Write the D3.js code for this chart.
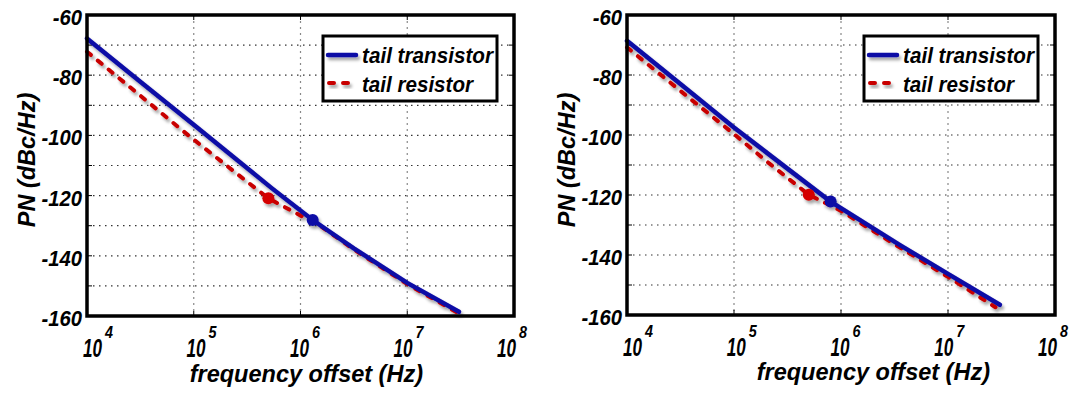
<html>
<head>
  <title> PN vs frequency offset </title>
  <style>
   body { margin: 0; background: #fff; }
   text { font-family: "Liberation Sans", Arial, sans-serif; font-weight: bold; font-style: italic; fill: #000; }
   .grid-h { stroke: #333; stroke-width: 1.2px; stroke-dasharray: 1.5,4.5; }
   .grid-v { stroke: #888; stroke-width: 1.2px; stroke-dasharray: 2,4; }
   .frame { fill: none; stroke: #000; stroke-width: 3.5px; }
  </style>
  <script src="https://cdn.jsdelivr.net/npm/d3@7"></script>
</head>
<body>
<svg id="chart" width="1077" height="399"></svg>
<script>
// x ticks (Hz) and y ticks (dBc/Hz)
var xTicks = [1e4, 1e5, 1e6, 1e7, 1e8];
var xTickExp = ["4", "5", "6", "7", "8"];
var yTicks = [-60, -80, -100, -120, -140, -160];
var yGrid = [-70, -80, -90, -100, -110, -120, -130, -140, -150];
var legendNames = ["tail transistor", "tail resistor"];

// left panel
var leftTransF  = [1e4, 3.16e4, 1e5, 5.41e5, 1.30e6, 3.16e6, 1e7, 3.05e7];
var leftTransPN = [-67.8, -82.2, -96.5, -117.6, -128.1, -137.5, -149.0, -158.6];
var leftResF    = [1e4, 3.16e4, 8.91e4, 2.51e5, 5.0e5, 1.58e6, 3.16e6, 1e7, 3.02e7];
var leftResPN   = [-72.2, -86.8, -100.0, -112.6, -120.9, -130.4, -137.9, -149.4, -159.1];
var leftMarkTrans = [1.30e6, -128.1];
var leftMarkRes   = [5.0e5, -120.9];

// right panel
var rightTransF  = [1e4, 3.16e4, 1e5, 3.16e5, 8.0e5, 3.56e6, 1e7, 3.05e7];
var rightTransPN = [-68.6, -83.0, -97.5, -111.2, -122.2, -136.7, -146.3, -156.6];
var rightResF    = [1e4, 3.16e4, 1e5, 2.09e5, 5.0e5, 1e6, 3.16e6, 1e7, 2.78e7];
var rightResPN   = [-70.8, -85.3, -99.7, -109.2, -119.9, -125.3, -136.4, -147.3, -157.4];
var rightMarkTrans = [8.0e5, -122.2];
var rightMarkRes   = [5.0e5, -119.9];

var blue = "#0a0aa6", red = "#c80000";

var svg = d3.select("#chart");
var defs = svg.append("defs");
var f = defs.append("filter").attr("id", "shadow")
  .attr("x", "-10%").attr("y", "-10%").attr("width", "130%").attr("height", "130%");
f.append("feDropShadow").attr("dx", 2).attr("dy", 3).attr("stdDeviation", 1.8)
  .attr("flood-color", "#000").attr("flood-opacity", 0.35);

var panels = [
  { x0: 87, x1: 514, y0: 15, y1: 316, ylab: 35, ylabY: 160, xlabEnd: 423, xlabY: 382,
    trans: [leftTransF, leftTransPN], res: [leftResF, leftResPN], mt: leftMarkTrans, mr: leftMarkRes },
  { x0: 627, x1: 1055, y0: 15, y1: 315, ylab: 575, ylabY: 160, xlabEnd: 990, xlabY: 380,
    trans: [rightTransF, rightTransPN], res: [rightResF, rightResPN], mt: rightMarkTrans, mr: rightMarkRes }
];

function zip(a, b) { return a.map(function(v, i) { return [v, b[i]]; }); }

panels.forEach(function(p) {
  var x = d3.scaleLog().domain([1e4, 1e8]).range([p.x0, p.x1]);
  var y = d3.scaleLinear().domain([-160, -60]).range([p.y1, p.y0]);
  // tick labels sit on a slightly tighter spacing than the grid
  var xl = d3.scaleLog().domain([1e4, 1e8]).range([p.x0 - 4, p.x1 - 17]);
  var g = svg.append("g");

  g.selectAll("line.gh").data(yGrid).enter().append("line")
    .attr("class", "grid-h")
    .attr("x1", p.x0).attr("x2", p.x1)
    .attr("y1", function(d) { return y(d); }).attr("y2", function(d) { return y(d); });
  g.selectAll("line.gv").data(xTicks.slice(1, 4)).enter().append("line")
    .attr("class", "grid-v")
    .attr("x1", function(d) { return x(d); }).attr("x2", function(d) { return x(d); })
    .attr("y1", p.y0).attr("y2", p.y1);

  // inward ticks on the frame
  g.selectAll("line.tl").data(yGrid).enter().append("line")
    .attr("stroke", "#000").attr("stroke-width", 1)
    .attr("x1", p.x0).attr("x2", p.x0 + 5)
    .attr("y1", function(d) { return y(d); }).attr("y2", function(d) { return y(d); });
  g.selectAll("line.tr").data(yGrid).enter().append("line")
    .attr("stroke", "#000").attr("stroke-width", 1)
    .attr("x1", p.x1 - 5).attr("x2", p.x1)
    .attr("y1", function(d) { return y(d); }).attr("y2", function(d) { return y(d); });
  g.selectAll("line.tb").data(xTicks.slice(1, 4)).enter().append("line")
    .attr("stroke", "#000").attr("stroke-width", 1)
    .attr("x1", function(d) { return x(d); }).attr("x2", function(d) { return x(d); })
    .attr("y1", p.y1 - 5).attr("y2", p.y1);
  g.selectAll("line.tt").data(xTicks.slice(1, 4)).enter().append("line")
    .attr("stroke", "#000").attr("stroke-width", 1)
    .attr("x1", function(d) { return x(d); }).attr("x2", function(d) { return x(d); })
    .attr("y1", p.y0).attr("y2", p.y0 + 5);

  var line = d3.line()
    .x(function(d) { return x(d[0]); })
    .y(function(d) { return y(d[1]); });

  var lg = g.append("g").attr("filter", "url(#shadow)");
  lg.append("path").datum(zip(p.res[0], p.res[1]))
    .attr("d", line).attr("fill", "none").attr("stroke", red)
    .attr("stroke-width", 4).attr("stroke-dasharray", "5,9").attr("stroke-linecap", "round");
  lg.append("path").datum(zip(p.trans[0], p.trans[1]))
    .attr("d", line).attr("fill", "none").attr("stroke", blue)
    .attr("stroke-width", 4.5).attr("stroke-linecap", "round");
  lg.append("circle").attr("cx", x(p.mr[0])).attr("cy", y(p.mr[1])).attr("r", 6).attr("fill", "#d40000");
  lg.append("circle").attr("cx", x(p.mt[0])).attr("cy", y(p.mt[1])).attr("r", 6).attr("fill", blue);

  g.append("rect").attr("class", "frame")
    .attr("x", p.x0).attr("y", p.y0).attr("width", p.x1 - p.x0).attr("height", p.y1 - p.y0);

  // y tick labels
  g.selectAll("text.yt").data(yTicks).enter().append("text")
    .attr("x", p.x0 - 5).attr("y", function(d) { return y(d) + 10; })
    .attr("text-anchor", "end").attr("font-size", "22px")
    .text(function(d) { return d; })
    .each(function() { d3.select(this).attr("textLength", this.getComputedTextLength() * 0.92).attr("lengthAdjust", "spacingAndGlyphs"); });

  // x tick labels: 10 with superscript exponent, one text each
  xTicks.forEach(function(t, i) {
    var tx = g.append("text").attr("x", xl(t)).attr("y", p.y1 + 41);
    tx.append("tspan").attr("font-size", "25px")
      .attr("textLength", 19).attr("lengthAdjust", "spacingAndGlyphs")
      .text("10");
    tx.append("tspan").attr("font-size", "17px").attr("dx", 3).attr("dy", -19)
      .attr("textLength", 8).attr("lengthAdjust", "spacingAndGlyphs")
      .text(xTickExp[i]);
  });

  // axis labels
  g.append("text").attr("x", p.xlabEnd).attr("y", p.xlabY)
    .attr("text-anchor", "end").attr("font-size", "23.5px")
    .text("frequency offset (Hz)");
  g.append("text")
    .attr("transform", "translate(" + p.ylab + "," + p.ylabY + ") rotate(-90)")
    .attr("text-anchor", "middle").attr("font-size", "23.5px")
    .text("PN (dBc/Hz)");

  // legend
  var bx1 = p.x1 - 17, bx0 = bx1 - 174;
  var leg = g.append("g");
  leg.append("rect").attr("x", bx0).attr("y", 36).attr("width", bx1 - bx0).attr("height", 65)
    .attr("fill", "#fff").attr("stroke", "#000").attr("stroke-width", 3);
  var lgl = leg.append("g").attr("filter", "url(#shadow)");
  lgl.append("line").attr("x1", bx0 + 5).attr("x2", bx0 + 33).attr("y1", 55).attr("y2", 55)
    .attr("stroke", blue).attr("stroke-width", 4.5).attr("stroke-linecap", "round");
  lgl.append("line").attr("x1", bx0 + 6).attr("x2", bx0 + 30).attr("y1", 83).attr("y2", 83)
    .attr("stroke", red).attr("stroke-width", 4).attr("stroke-dasharray", "5,9").attr("stroke-linecap", "round");
  leg.selectAll("text.lt").data(legendNames).enter().append("text")
    .attr("x", bx0 + 39).attr("y", function(d, i) { return 63 + i * 28.5; })
    .attr("font-size", "22.5px")
    .attr("textLength", function(d, i) { return i === 0 ? 131 : 111; })
    .attr("lengthAdjust", "spacingAndGlyphs")
    .text(function(d) { return d; });
});
</script>
</body>
</html>
